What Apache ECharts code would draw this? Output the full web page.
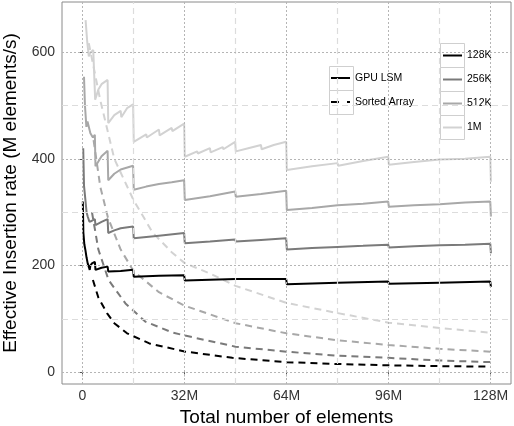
<!DOCTYPE html>
<html><head><meta charset="utf-8">
<script src="https://cdn.jsdelivr.net/npm/echarts@6/dist/echarts.min.js"></script>
<style>html,body{margin:0;padding:0;background:#fff}#c{width:514px;height:426px}</style>
</head><body><div id="c"></div>
<script>
// ---- data (x in M elements, y in M elements/s) ----
const xTicks = [0, 32, 64, 96, 128];
const xMinor = [16, 48, 80, 112];
const yTicks = [0, 200, 400, 600];
const yMinor = [100, 300, 500];
const batchNames = ['128K', '256K', '512K', '1M'];

const lsm128K = [[0.13,320],[0.3,262],[0.6,240],[0.94,229],[1.3,215],[1.66,204],[2.3,192],[2.5,200],[3.0,204],[3.9,207],[4.1,192],[6,196],[7.9,198],[8.1,189],[12,190],[15.9,192],[16.1,179],[24,181],[31.9,182],[32.1,172],[48,175],[63.9,175],[64.1,165],[80,168],[95.9,170],[96.1,166],[112,168],[127.9,170],[128.1,160]];
const lsm256K = [[0.25,420],[0.5,350],[0.94,323],[1.3,300],[1.66,292],[2.2,282],[3.0,284],[3.9,287],[4.1,276],[6,282],[7.9,287],[8.1,261],[10,266],[12,270],[15.9,273],[16.1,251],[24,256],[31.9,261],[32.1,242],[40,245],[47.9,249],[48.1,245],[56,248],[63.9,251],[64.1,230],[72,233],[80,235],[88,237],[95.9,239],[96.1,234],[104,236],[112,238],[120,239],[127.9,241],[128.1,223]];
const lsm512K = [[0.5,554],[0.8,500],[1.25,460],[1.6,470],[2.5,448],[3.3,440],[3.9,445],[4.1,386],[6,405],[7.9,415],[8.1,360],[10,372],[12,380],[15.9,387],[16.1,342],[20,348],[24,353],[28,356],[31.9,360],[32.1,323],[40,330],[47.9,339],[48.1,329],[56,334],[63.9,340],[64.1,304],[72,308],[80,313],[88,316],[95.9,320],[96.1,310],[104,313],[112,315],[120,318],[127.9,320],[128.1,292]];
const lsm1M = [[1.0,660],[1.5,620],[2.0,592],[2.6,600],[3.4,604],[4.0,511],[5,530],[6,540],[7.9,548],[8.1,467],[10,482],[12,490],[12.2,478],[14,495],[15.9,502],[16.1,432],[20,446],[20.2,440],[24,455],[24.2,444],[28,458],[28.2,452],[31.9,466],[32.1,404],[36,414],[36.2,410],[40,420],[40.2,412],[44,422],[44.2,418],[47.9,432],[48.1,414],[52,420],[52.2,417],[56,426],[56.2,418],[60,426],[63.9,432],[64.1,379],[72,386],[72.2,384],[80,392],[80.2,387],[88,396],[88.2,394],[95.9,404],[96.1,389],[104,394],[112,399],[112.2,396],[120,400],[127.9,404],[128.1,357]];

const sorted128K = [[3.3,173],[5,140],[7.7,111],[10,92],[14,73],[21,54],[32,39],[47,27],[64,19],[80,15.5],[96,13],[112,11.5],[128,10.5]];
const sorted256K = [[3,300],[5,230],[8.2,173],[13.5,129],[19.7,95],[28,75],[32,69],[48,48],[64,38.6],[80,31],[96,27],[112,22],[128,19]];
const sorted512K = [[3.5,435],[5.6,348],[8,290],[12,230],[16,190],[24,150],[32,125],[48,92],[64,73],[80,60],[96,51],[112,44],[128,38.6]];
const sorted1M = [[2,617],[5.6,510],[10,400],[16,323],[22,262],[28,225],[32,205],[40,185],[48,162],[64,130],[80,111],[96,93],[112,83],[128,74]];

// ---- styling ----
const colors = ['#000000', '#7a7a7a', '#a8a8a8', '#d2d2d2'];
const FONT = "'Liberation Sans', Arial, Helvetica, sans-serif";
const lsmData = [lsm128K, lsm256K, lsm512K, lsm1M];
const sortedData = [sorted128K, sorted256K, sorted512K, sorted1M];

const majorStyle = {color: '#b5b5b5', type: [2, 2], width: 1};
const minorStyle = {color: '#dcdcdc', type: [6, 4], width: 1.2};
const gridLines = [].concat(
  xTicks.map(v => ({xAxis: v, lineStyle: majorStyle})),
  xMinor.map(v => ({xAxis: v, lineStyle: minorStyle})),
  yTicks.map(v => ({yAxis: v, lineStyle: majorStyle})),
  yMinor.map(v => ({yAxis: v, lineStyle: minorStyle}))
);

const series = [{
  name: 'grid', type: 'line', data: [], z: 1, silent: true,
  markLine: {silent: true, symbol: ['none', 'none'], label: {show: false}, data: gridLines, animation: false}
}];
for (let i = 3; i >= 0; i--) {
  series.push({name: batchNames[i] + ' sorted', type: 'line', data: sortedData[i], showSymbol: false, symbol: 'none', z: 3,
    lineStyle: {color: colors[i], width: 2, type: [7, 5]}, itemStyle: {color: colors[i]}, animation: false});
}
for (let i = 3; i >= 0; i--) {
  series.push({name: batchNames[i], type: 'line', data: lsmData[i], showSymbol: false, symbol: 'none', z: 4,
    lineStyle: {color: colors[i], width: 2}, itemStyle: {color: colors[i]}, animation: false});
}
series.push({name: 'GPU LSM', type: 'line', data: [], symbol: 'none', lineStyle: {color: '#000', width: 2}, itemStyle: {color: '#000'}});
series.push({name: 'Sorted Array', type: 'line', data: [], symbol: 'none', lineStyle: {color: '#000', width: 2, type: [8, 8]}, itemStyle: {color: '#000'}});

const dashIcon = 'path://M0,0H8V2H0Z M16,0H19V2H16Z';
const legendText = {fontSize: 10.5, color: '#000', fontFamily: FONT, lineHeight: 14};
function solidItem(name, color) {
  return {name: name, icon: 'rect', itemStyle: {color: color, borderWidth: 0}};
}

const chart = echarts.init(document.getElementById('c'), null, {renderer: 'canvas'});
chart.setOption({
  animation: false,
  backgroundColor: '#fff',
  textStyle: {fontFamily: FONT},
  grid: {left: 62, top: 2, right: 3, bottom: 42, outerBoundsMode: 'none', containLabel: false,
    show: true, borderColor: '#8a8a8a', borderWidth: 1, backgroundColor: '#fff'},
  xAxis: {
    type: 'value', min: -6.4, max: 134.4,
    name: 'Total number of elements', nameLocation: 'middle', nameGap: 20,
    nameTextStyle: {fontSize: 19, color: '#000', fontFamily: FONT},
    axisLine: {show: false},
    axisTick: {show: true, customValues: xTicks, length: 4, lineStyle: {color: '#555'}},
    axisLabel: {customValues: xTicks, fontSize: 14, color: '#333', margin: 5, fontFamily: FONT,
      formatter: v => v === 0 ? '0' : v + 'M'},
    splitLine: {show: false}
  },
  yAxis: {
    type: 'value', min: -22, max: 694,
    name: 'Effective Insertion rate (M elements/s)', nameLocation: 'middle', nameGap: 33,
    nameTextStyle: {fontSize: 19, color: '#000', fontFamily: FONT},
    axisLine: {show: false},
    axisTick: {show: true, customValues: yTicks, length: 4, lineStyle: {color: '#555'}},
    axisLabel: {customValues: yTicks, fontSize: 14, color: '#333', margin: 7, fontFamily: FONT},
    splitLine: {show: false}
  },
  legend: [
    {data: [solidItem('GPU LSM', '#000'),
            {name: 'Sorted Array', icon: dashIcon, itemStyle: {color: '#000', borderWidth: 0}}],
      orient: 'vertical', left: 331, top: 71, padding: 0, itemWidth: 19, itemHeight: 2, itemGap: 10,
      textStyle: legendText, selectedMode: false},
    {data: batchNames.map((n, i) => solidItem(n, colors[i])),
      orient: 'vertical', left: 443, top: 48.5, padding: 0, itemWidth: 19, itemHeight: 2, itemGap: 10,
      textStyle: legendText, selectedMode: false}
  ],
  graphic: [
    {type: 'rect', shape: {x: 329.5, y: 66.5, width: 24, height: 24}, style: {fill: 'none', stroke: '#cfcfcf', lineWidth: 1}, z: 0},
    {type: 'rect', shape: {x: 329.5, y: 90.5, width: 24, height: 24}, style: {fill: 'none', stroke: '#cfcfcf', lineWidth: 1}, z: 0},
    {type: 'rect', shape: {x: 440.5, y: 43.5, width: 24, height: 24}, style: {fill: 'none', stroke: '#cfcfcf', lineWidth: 1}, z: 0},
    {type: 'rect', shape: {x: 440.5, y: 67.5, width: 24, height: 24}, style: {fill: 'none', stroke: '#cfcfcf', lineWidth: 1}, z: 0},
    {type: 'rect', shape: {x: 440.5, y: 91.5, width: 24, height: 24}, style: {fill: 'none', stroke: '#cfcfcf', lineWidth: 1}, z: 0},
    {type: 'rect', shape: {x: 440.5, y: 115.5, width: 24, height: 24}, style: {fill: 'none', stroke: '#cfcfcf', lineWidth: 1}, z: 0}
  ],
  series: series
});
</script></body></html>
